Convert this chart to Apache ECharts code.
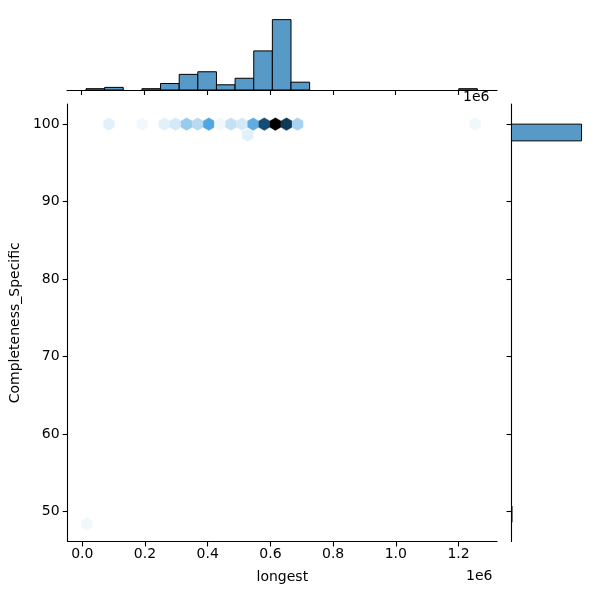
<!DOCTYPE html>
<html>
<head>
<meta charset="utf-8">
<script src="https://cdn.jsdelivr.net/npm/echarts@6/dist/echarts.min.js"></script>
<style>
  html, body { margin: 0; padding: 0; background: #fff; }
  #chart { width: 600px; height: 600px; }
</style>
</head>
<body>
<div id="chart"></div>
<script>
// hexbin cells (centre x, centre y, count)
const hexX = [14000, 84800, 191000, 261800, 297200, 332600, 368000, 403400, 438800,
  474200, 509600, 527300, 545000, 580400, 615800, 651200, 686600, 1253000]
const hexY = [48.4, 100, 100, 100, 100, 100, 100, 100, 100,
  100, 100, 98.58, 100, 100, 100, 100, 100, 100]
const hexCount = [1, 2, 1, 2, 3, 7, 5, 12, 1, 4, 3, 2, 11, 22, 30, 24, 6, 1]

// marginal histogram of longest
const topEdges = [13700, 73100, 132400, 191800, 251100, 310500, 369800, 429200, 488500,
  547900, 607200, 666600, 725900, 785300, 844600, 904000, 963300, 1022700, 1082000,
  1141400, 1200700, 1260100]
const topCounts = [1, 2, 0, 1, 5, 12, 14, 4, 9, 30, 54, 6, 0, 0, 0, 0, 0, 0, 0, 0, 1]

// marginal histogram of Completeness_Specific
const rightLow = [48.6, 97.84]
const rightHigh = [50.7, 100.0]
const rightCounts = [1, 136]

const xTicks = [0, 200000, 400000, 600000, 800000, 1000000, 1200000]
const yTicks = [50, 60, 70, 80, 90, 100]

const hexWidth = 35400
const barColor = '#5799c7'
const font = 'DejaVu Sans'
const fontSize = 14

// seaborn style cmap: hue of C0, lightness 1 -> 0
function hlsToRgb(h, l, s) {
  function v(m1, m2, hue) {
    hue = ((hue % 1) + 1) % 1
    if (hue < 1 / 6) return m1 + (m2 - m1) * hue * 6
    if (hue < 0.5) return m2
    if (hue < 2 / 3) return m1 + (m2 - m1) * (2 / 3 - hue) * 6
    return m1
  }
  if (s === 0) return [l, l, l]
  const m2 = l <= 0.5 ? l * (1 + s) : l + s - l * s
  const m1 = 2 * l - m2
  return [v(m1, m2, h + 1 / 3), v(m1, m2, h), v(m1, m2, h - 1 / 3)]
}
const hexColors = []
for (let i = 0; i < 12; i++) {
  const l = 1 - i / 11
  const rgb = hlsToRgb(0.5683, l, 0.706).map(c => Math.round(Math.max(0, Math.min(1, c)) * 255))
  hexColors.push('rgb(' + rgb.join(',') + ')')
}

const chart = echarts.init(document.getElementById('chart'))

const axisLine = { show: true, onZero: false, lineStyle: { color: '#000', width: 1.1 } }
const tick = { show: true, length: 5, lineStyle: { color: '#000', width: 1.1 } }

chart.setOption({
  animation: false,
  grid: [
    { left: 67, top: 104, width: 430, height: 437.5 },
    { left: 67, top: 4, width: 430, height: 86 },
    { left: 511.5, top: 104, width: 86, height: 437.5 }
  ],
  visualMap: {
    show: false,
    seriesIndex: 0,
    dimension: 2,
    min: 0,
    max: 30,
    inRange: { color: hexColors }
  },
  xAxis: [
    {
      gridIndex: 0, type: 'value', min: -46800, max: 1322600,
      axisLine: axisLine,
      axisTick: Object.assign({}, tick, { customValues: xTicks }),
      axisLabel: {
        customValues: xTicks, color: '#000', fontSize: fontSize, fontFamily: font, margin: 6,
        formatter: v => (v / 1e6).toFixed(1)
      },
      splitLine: { show: false },
      name: 'longest', nameLocation: 'middle', nameGap: 29,
      nameTextStyle: { color: '#000', fontSize: fontSize, fontFamily: font }
    },
    {
      gridIndex: 1, type: 'value', min: -46800, max: 1322600,
      axisLine: axisLine,
      axisTick: Object.assign({}, tick, { customValues: xTicks }),
      axisLabel: { show: false },
      splitLine: { show: false }
    },
    {
      gridIndex: 2, type: 'value', min: 0, max: 167, show: false
    }
  ],
  yAxis: [
    {
      gridIndex: 0, type: 'value', min: 46.12, max: 102.6,
      axisLine: axisLine,
      axisTick: Object.assign({}, tick, { customValues: yTicks }),
      axisLabel: { customValues: yTicks, color: '#000', fontSize: fontSize, fontFamily: font, margin: 8 },
      splitLine: { show: false },
      name: 'Completeness_Specific', nameLocation: 'middle', nameGap: 40,
      nameTextStyle: { color: '#000', fontSize: fontSize, fontFamily: font }
    },
    {
      gridIndex: 1, type: 'value', min: 0, max: 66, show: false
    },
    {
      gridIndex: 2, type: 'value', min: 46.12, max: 102.6,
      axisLine: axisLine,
      axisTick: Object.assign({}, tick, { customValues: yTicks }),
      axisLabel: { show: false },
      splitLine: { show: false }
    }
  ],
  graphic: [
    { type: 'text', left: 466, top: 569, style: { text: '1e6', fill: '#000', font: fontSize + 'px "DejaVu Sans"' } },
    { type: 'text', left: 463, top: 90, style: { text: '1e6', fill: '#000', font: fontSize + 'px "DejaVu Sans"' } }
  ],
  series: [
    {
      type: 'custom',
      xAxisIndex: 0, yAxisIndex: 0,
      data: hexX.map((x, i) => [x, hexY[i], hexCount[i]]),
      encode: { x: 0, y: 1 },
      renderItem: function (params, api) {
        const c = api.coord([api.value(0), api.value(1)])
        const w = api.size([hexWidth, 0])[0] / 2
        const r = w * 2 / Math.sqrt(3)
        const color = api.visual('color')
        return {
          type: 'polygon',
          shape: {
            points: [
              [c[0] + w, c[1] - r / 2], [c[0], c[1] - r], [c[0] - w, c[1] - r / 2],
              [c[0] - w, c[1] + r / 2], [c[0], c[1] + r], [c[0] + w, c[1] + r / 2]
            ]
          },
          style: { fill: color, stroke: color, lineWidth: 0.3 }
        }
      }
    },
    {
      type: 'custom',
      xAxisIndex: 1, yAxisIndex: 1,
      data: topCounts.map((c, i) => [topEdges[i], topEdges[i + 1], c]).filter(d => d[2] > 0),
      encode: { x: [0, 1], y: 2 },
      renderItem: function (params, api) {
        const p0 = api.coord([api.value(0), api.value(2)])
        const p1 = api.coord([api.value(1), 0])
        return {
          type: 'rect',
          shape: { x: p0[0], y: p0[1], width: p1[0] - p0[0], height: p1[1] - p0[1] },
          style: { fill: barColor, stroke: '#000', lineWidth: 1 }
        }
      }
    },
    {
      type: 'custom',
      xAxisIndex: 2, yAxisIndex: 2,
      data: rightCounts.map((c, i) => [rightLow[i], rightHigh[i], c]),
      encode: { y: [0, 1], x: 2 },
      renderItem: function (params, api) {
        const p0 = api.coord([0, api.value(1)])
        const p1 = api.coord([api.value(2), api.value(0)])
        return {
          type: 'rect',
          shape: { x: p0[0], y: p0[1], width: p1[0] - p0[0], height: p1[1] - p0[1] },
          style: { fill: barColor, stroke: '#000', lineWidth: 1 }
        }
      }
    }
  ]
})
</script>
</body>
</html>
